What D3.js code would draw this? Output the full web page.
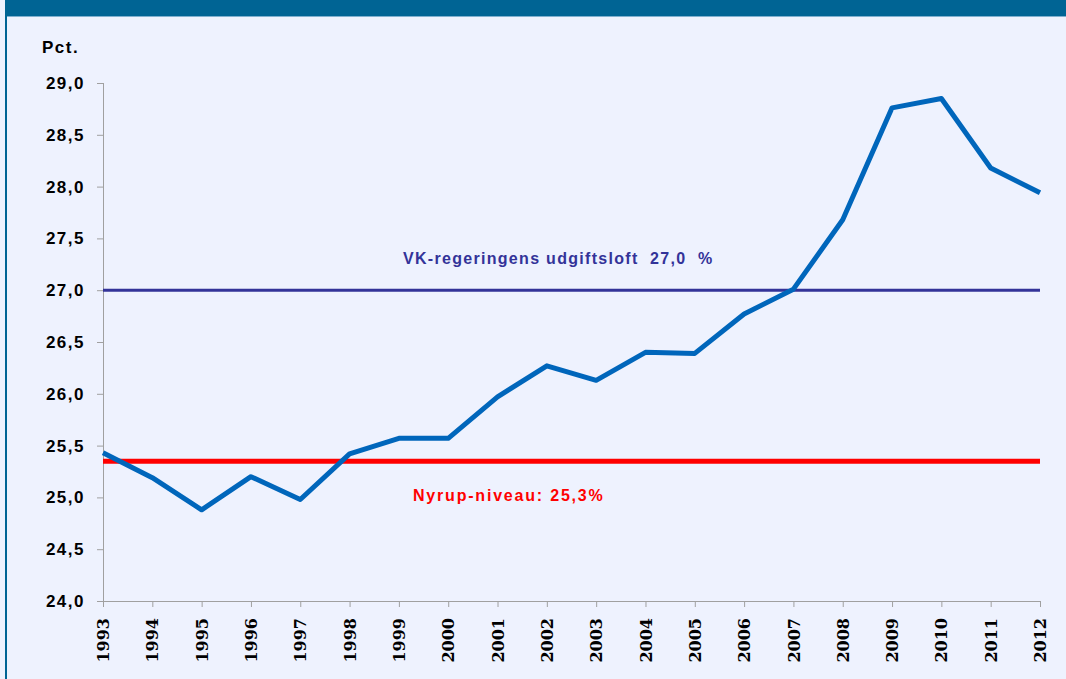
<!DOCTYPE html>
<html>
<head>
<meta charset="utf-8">
<script src="https://cdn.jsdelivr.net/npm/d3@7"></script>
<style>
  body { margin: 0; background: #eef2fe; }
  svg { display: block; }
  text { font-family: "Liberation Sans", Arial, sans-serif; font-weight: bold; }
</style>
</head>
<body>
<svg width="1066" height="679"></svg>
<script>
const years = [1993, 1994, 1995, 1996, 1997, 1998, 1999, 2000, 2001, 2002,
               2003, 2004, 2005, 2006, 2007, 2008, 2009, 2010, 2011, 2012];
const shares = [25.43, 25.19, 24.88, 25.20, 24.98, 25.42, 25.57, 25.57, 25.97, 26.27,
                26.13, 26.40, 26.39, 26.77, 27.01, 27.68, 28.76, 28.85, 28.18, 27.94];
const yTicks = [24.0, 24.5, 25.0, 25.5, 26.0, 26.5, 27.0, 27.5, 28.0, 28.5, 29.0];
const vkLevel = 27.0;
const vkLabel = "VK-regeringens udgiftsloft  27,0  %";
const nyrupLevel = 25.35;
const nyrupLabel = "Nyrup-niveau: 25,3%";
const unitLabel = "Pct.";

const svg = d3.select("svg");
const width = +svg.attr("width");
const height = +svg.attr("height");

// frame: dark header strip + left border
svg.append("rect").attr("x", 0).attr("y", 0).attr("width", width).attr("height", height).attr("fill", "#eef2fe");
svg.append("rect").attr("x", 5).attr("y", 0).attr("width", width - 5).attr("height", 16).attr("fill", "#006494");
svg.append("rect").attr("x", 5).attr("y", 16).attr("width", 2).attr("height", height - 16).attr("fill", "#006494");
svg.append("line").attr("x1", 7).attr("x2", width).attr("y1", 16.5).attr("y2", 16.5)
  .attr("stroke", "#7fb0cf").attr("stroke-width", 1);

const x = d3.scalePoint().domain(years).range([103, 1040]);
const y = d3.scaleLinear().domain([24, 29]).range([601, 83]);

const fmt = d => d3.format(".1f")(d).replace(".", ",");

// y axis
const yAxis = svg.append("g")
  .attr("transform", "translate(103,0)")
  .call(d3.axisLeft(y).tickValues(yTicks).tickSize(6).tickPadding(12).tickFormat(fmt));
yAxis.selectAll("text").attr("font-size", 17).attr("fill", "#000")
  .style("font-family", "\"Liberation Sans\", Arial, sans-serif").style("font-weight", "bold")
  .style("letter-spacing", "1.5px");
yAxis.selectAll("line").attr("stroke", "#a0a0a0");
yAxis.select(".domain").attr("stroke", "#a0a0a0").attr("d", "M0.5,83V601.5");

// x axis
const xAxis = svg.append("g")
  .attr("transform", "translate(0,601)")
  .call(d3.axisBottom(x).tickSize(6).tickPadding(0));
xAxis.select(".domain").attr("stroke", "#a0a0a0").attr("d", "M103,0.5H1040.5V6");
xAxis.selectAll("line").attr("stroke", "#a0a0a0");
xAxis.selectAll("text")
  .attr("font-size", 16).attr("fill", "#000")
  .style("font-family", "\"DejaVu Serif\", serif").style("font-weight", "bold")
  .attr("text-anchor", "end")
  .attr("transform", "translate(0,12) rotate(-90)")
  .attr("x", -5).attr("y", 0).attr("dy", "0.35em");

svg.append("text").attr("x", 42).attr("y", 53).attr("font-size", 17).attr("fill", "#000")
  .style("letter-spacing", "1.5px").text(unitLabel);

// reference lines
svg.append("line")
  .attr("x1", x(1993)).attr("x2", x(2012))
  .attr("y1", y(vkLevel)).attr("y2", y(vkLevel))
  .attr("stroke", "#333399").attr("stroke-width", 3);
svg.append("text").attr("x", 403).attr("y", 264).attr("font-size", 16)
  .attr("fill", "#333399").style("white-space", "pre").style("letter-spacing", "1.3px").text(vkLabel);

svg.append("line")
  .attr("x1", x(1993)).attr("x2", x(2012))
  .attr("y1", y(nyrupLevel)).attr("y2", y(nyrupLevel))
  .attr("stroke", "#ff0000").attr("stroke-width", 5);
svg.append("text").attr("x", 413).attr("y", 501).attr("font-size", 16)
  .attr("fill", "#ff0000").style("letter-spacing", "1.8px").text(nyrupLabel);

// main series
svg.append("path")
  .datum(years.map((yr, i) => [yr, shares[i]]))
  .attr("fill", "none")
  .attr("stroke", "#0066bb")
  .attr("stroke-width", 5)
  .attr("stroke-linejoin", "round")
  .attr("d", d3.line().x(d => x(d[0])).y(d => y(d[1])));
</script>
</body>
</html>
